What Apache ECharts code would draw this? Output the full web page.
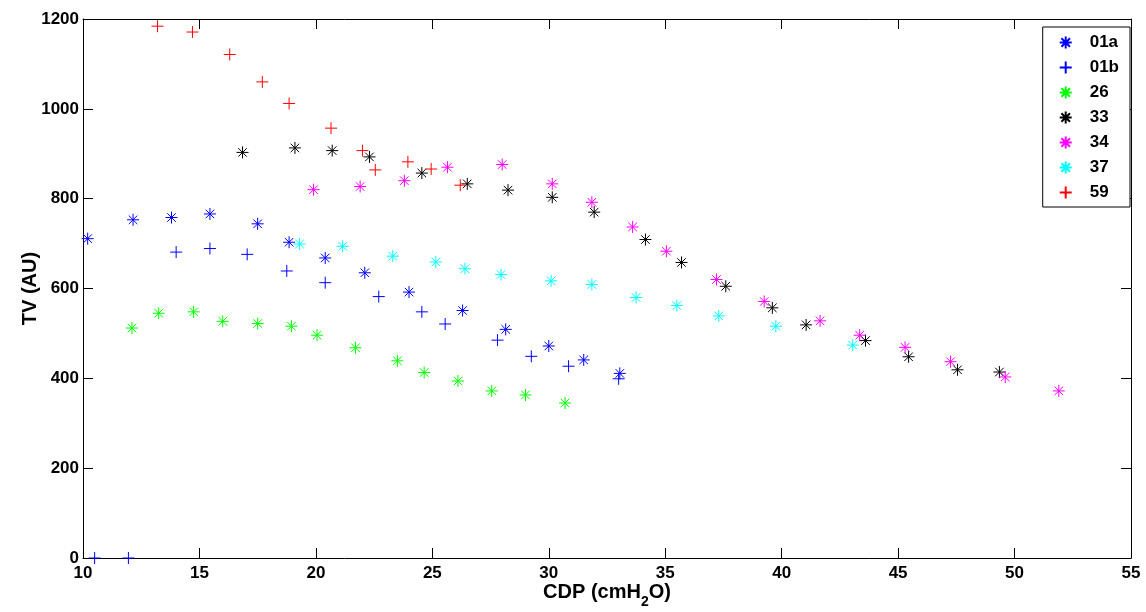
<!DOCTYPE html>
<html>
<head>
<meta charset="utf-8">
<title>TV vs CDP</title>
<script src="https://cdn.jsdelivr.net/npm/echarts@6/dist/echarts.min.js"></script>
<style>
  html, body { margin: 0; padding: 0; background: #fff; }
  #chart { width: 1146px; height: 612px; }
</style>
</head>
<body>
<div id="chart"></div>
<script>
// Subject recordings: [CDP (cmH2O), TV (AU)]
const s01a = [[10.2,711],[12.15,753],[13.8,758],[15.45,766],[17.5,744],[18.85,703],[20.4,668],[22.1,635],[24.0,592],[26.3,551],[28.15,509],[30.0,472],[31.5,441],[33.05,411]];
const s01b = [[10.5,0],[11.95,0],[14.0,681],[15.45,689],[17.05,676],[18.75,639],[20.4,613],[22.7,582],[24.55,548],[25.55,521],[27.8,485],[29.25,449],[30.85,427],[33.0,399]];
const s26  = [[12.1,512],[13.25,545],[14.75,548],[16.0,527],[17.5,522],[18.95,516],[20.05,496],[21.7,468],[23.5,439],[24.65,413],[26.1,394],[27.55,372],[29.0,363],[30.7,345]];
const s33  = [[16.85,903],[19.1,913],[20.7,907],[22.3,893],[24.55,857],[26.5,833],[28.25,819],[30.15,803],[31.95,770],[34.15,709],[35.7,658],[37.6,605],[39.6,557],[41.05,519],[43.6,484],[45.45,448],[47.55,419],[49.35,414]];
const s34  = [[19.9,820],[21.9,827],[23.8,840],[25.65,870],[28.0,876],[30.15,833],[31.85,792],[33.6,737],[35.05,683],[37.2,620],[39.25,571],[41.65,528],[43.35,496],[45.3,469],[47.25,437],[49.6,403],[51.9,372]];
const s37  = [[19.3,699],[21.15,694],[23.3,672],[25.15,659],[26.4,644],[27.95,631],[30.1,617],[31.85,609],[33.75,580],[35.5,562],[37.3,539],[39.75,516],[43.05,474]];
const s59  = [[13.2,1184],[14.7,1171],[16.3,1121],[17.7,1060],[18.85,1012],[20.65,957],[22.0,907],[22.55,864],[23.95,882],[24.95,866],[26.2,830]];

const seriesNames = ['01a', '01b', '26', '33', '34', '37', '59'];
const seriesData  = [s01a, s01b, s26, s33, s34, s37, s59];
const seriesColors = ['#0000ff', '#0000ff', '#00ff00', '#000000', '#ff00ff', '#00ffff', '#ff0000'];
const seriesMarks  = ['star', 'plus', 'star', 'star', 'star', 'star', 'plus'];

const xRange = { min: 10, max: 55, interval: 5 };
const yRange = { min: 0, max: 1200, interval: 200 };

// Stroke-only marker shapes
const MARKS = {
  star: 'path://M0,-1L0,1M-1,0L1,0M-0.71,-0.71L0.71,0.71M-0.71,0.71L0.71,-0.71',
  plus: 'path://M0,-1L0,1M-1,0L1,0'
};

const FONT = 'Liberation Sans, Arial, sans-serif';
const axisLine = { show: true, onZero: false, lineStyle: { color: '#000', width: 1 } };
const tickIn = { show: true, inside: true, length: 10, lineStyle: { color: '#000', width: 1 } };
const tickLabel = { color: '#000', fontFamily: FONT, fontWeight: 'bold', fontSize: 17, formatter: v => String(v) };

const chart = echarts.init(document.getElementById('chart'), null, { renderer: 'canvas' });

chart.setOption({
  animation: false,
  backgroundColor: '#fff',
  grid: { left: 83, right: 15, top: 19, bottom: 54, containLabel: false, outerBoundsMode: 'none' },
  xAxis: [
    {
      type: 'value', position: 'bottom', ...xRange,
      name: 'CDP (cmH{sub|2}O)', nameLocation: 'middle', nameGap: 17, nameMoveOverlap: false,
      nameTextStyle: {
        color: '#000', fontFamily: FONT, fontWeight: 'bold', fontSize: 20,
        rich: { sub: { fontFamily: FONT, fontWeight: 'bold', fontSize: 14, verticalAlign: 'bottom', lineHeight: 34, color: '#000' } }
      },
      axisLine, axisTick: tickIn, splitLine: { show: false },
      axisLabel: { ...tickLabel, margin: 7 }
    },
    {
      type: 'value', position: 'top', ...xRange,
      axisLine, axisTick: tickIn, splitLine: { show: false },
      axisLabel: { show: false }
    }
  ],
  yAxis: [
    {
      type: 'value', position: 'left', ...yRange,
      name: 'TV (AU)', nameLocation: 'middle', nameGap: 43, nameRotate: 90, nameMoveOverlap: false,
      nameTextStyle: { color: '#000', fontFamily: FONT, fontWeight: 'bold', fontSize: 20 },
      axisLine, axisTick: tickIn, splitLine: { show: false },
      axisLabel: { ...tickLabel, margin: 4 }
    },
    {
      type: 'value', position: 'right', ...yRange,
      axisLine, axisTick: tickIn, splitLine: { show: false },
      axisLabel: { show: false }
    }
  ],
  legend: {
    orient: 'vertical',
    right: 16, top: 27,
    padding: [7, 11, 6, 16],
    backgroundColor: '#fff',
    borderColor: '#000', borderWidth: 1, borderRadius: 0,
    itemWidth: 12, itemHeight: 12, itemGap: 8,
    textStyle: { color: '#000', fontFamily: FONT, fontWeight: 'bold', fontSize: 17, padding: [0, 0, 0, 13] },
    data: seriesNames
  },
  series: seriesNames.map((name, i) => ({
    name,
    type: 'scatter',
    xAxisIndex: 0, yAxisIndex: 0,
    data: seriesData[i],
    symbol: MARKS[seriesMarks[i]],
    symbolSize: 12,
    symbolKeepAspect: true,
    clip: false,
    itemStyle: { color: 'rgba(0,0,0,0)', borderColor: seriesColors[i], borderWidth: 1, opacity: 1 },
    emphasis: { disabled: true }
  }))
});
</script>
</body>
</html>
